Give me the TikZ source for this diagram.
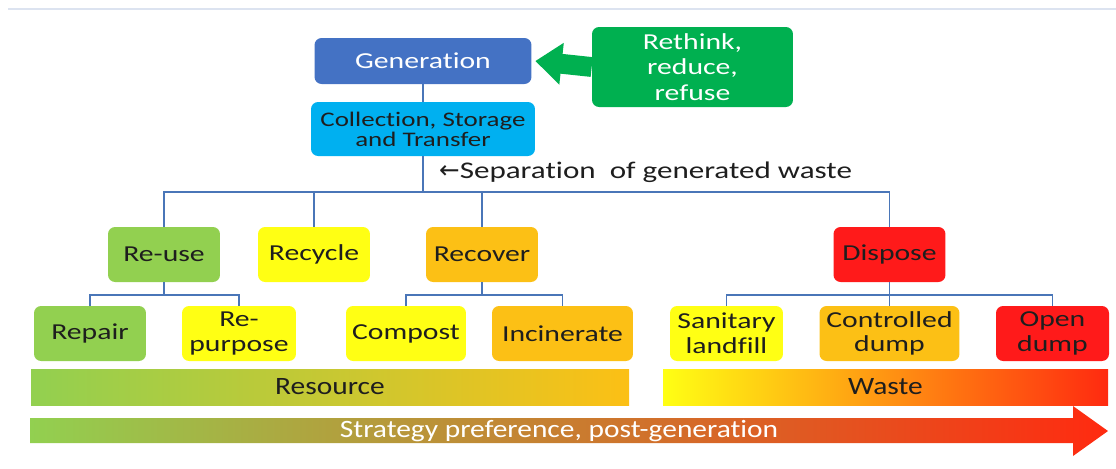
\documentclass[tikz,border=0pt]{standalone}
\usepackage{fontspec}
\setmainfont{Carlito}[Ligatures=NoCommon]
\newfontfamily\boxfont{Carlito}[FakeStretch=1.3, Ligatures=NoCommon]
\newfontfamily\barfont{Carlito}[FakeStretch=1.18, Ligatures=NoCommon]
\newfontfamily\symfont{DejaVu Sans}
\usetikzlibrary{arrows.meta}

\definecolor{ink}{HTML}{1E1E1E}
\definecolor{linkblue}{HTML}{4A76B8}
\definecolor{rule}{HTML}{DCE3F0}
\definecolor{genblue}{HTML}{4472C4}
\definecolor{rgreen}{HTML}{00B050}
\definecolor{skyblue}{HTML}{00B0F0}
\definecolor{lgreen}{HTML}{92D050}
\definecolor{yel}{HTML}{FFFF14}
\definecolor{orng}{HTML}{FCC015}
\definecolor{red}{HTML}{FF1A1A}
\definecolor{rust}{HTML}{E08C34}
\definecolor{hotred}{HTML}{FF2A10}

\begin{document}
\begin{tikzpicture}[x=0.02cm, y=-0.02cm,
    box/.style={rounded corners=4pt, inner sep=0pt, align=center, text=ink,
        font=\boxfont\fontsize{13}{14}\selectfont},
    lvl/.style={box, minimum width=2.24cm, minimum height=1.1cm},
    link/.style={draw=linkblue, line width=1pt},
    bartext/.style={font=\barfont\fontsize{14.2}{16}\selectfont}]
    \useasboundingbox (0,0) rectangle (1116,468);

    % thin rule along the top
    \draw[rule, line width=1.2pt] (8,9) -- (1116,9);

    % Generation and upstream measures
    \node[box, fill=genblue, text=white, minimum width=4.34cm, minimum height=0.92cm] (gen) at (423,61) {Generation};
    \node[box, fill=rgreen, text=white, minimum width=4.02cm, minimum height=1.6cm,
        font=\boxfont\fontsize{13}{14.4}\selectfont] (rethink) at (692.5,67) {Rethink,\\reduce,\\refuse};
    \node[box, fill=skyblue, minimum width=4.48cm, minimum height=1.08cm,
        font=\boxfont\fontsize{11.8}{11.4}\selectfont] (coll) at (423,129) {Collection, Storage\\and Transfer};
    \draw[rgreen, line width=11.3pt, -{Triangle[length=15pt, width=23pt]}] (rethink.west) -- ([xshift=2pt]gen.east);
    \draw[link] (gen) -- (coll);

    % Separation into streams
    \coordinate (split) at (423,192);
    \node[anchor=west, text=ink, font=\boxfont\fontsize{13.6}{14}\selectfont] (sep) at (433,172) {{\symfont\fontsize{14}{14}\selectfont←}Separation\ \ of generated waste};
    \node[lvl, fill=lgreen] (reuse) at (164,254.5) {Re-use};
    \node[lvl, fill=yel] (recycle) at (314,254.5) {Recycle};
    \node[lvl, fill=orng] (recover) at (482,254.5) {Recover};
    \node[lvl, fill=red] (dispose) at (889.5,254.5) {Dispose};
    \draw[link] (coll) -- (split);
    \foreach \n in {reuse, recycle, recover, dispose}
        \draw[link] (split) -| (\n.north);

    % Second level options
    \node[lvl, fill=lgreen, minimum width=2.24cm] (repair) at (90,333.5) {Repair};
    \node[lvl, fill=yel, minimum width=2.28cm] (repurpose) at (239,333.5) {Re-\\purpose};
    \node[lvl, fill=yel, minimum width=2.4cm] (compost) at (406,333.5) {Compost};
    \node[lvl, fill=orng, minimum width=2.82cm] (incinerate) at (562.5,333.5) {Incinerate};
    \node[lvl, fill=yel, minimum width=2.26cm] (landfill) at (726.5,333.5) {Sanitary\\landfill};
    \node[lvl, fill=orng, minimum width=2.8cm] (controlled) at (889.5,333.5) {Controlled\\dump};
    \node[lvl, fill=red, minimum width=2.26cm] (open) at (1052.5,333.5) {Open\\dump};

    \draw[link] (reuse.south) -- ++(0,12.5) coordinate (b1);
    \draw[link] (b1) -| (repair.north);
    \draw[link] (b1) -| (repurpose.north);
    \draw[link] (recover.south) -- ++(0,12.5) coordinate (b2);
    \draw[link] (b2) -| (compost.north);
    \draw[link] (b2) -| (incinerate.north);
    \draw[link] (dispose.south) -- (controlled.north);
    \draw[link] (dispose.south) ++(0,12.5) coordinate (b3);
    \draw[link] (b3) -| (landfill.north);
    \draw[link] (b3) -| (open.north);

    % Resource / waste bands
    \shade[left color=lgreen, right color=orng] (31,369) rectangle (629,405);
    \node[bartext, text=ink] (resource) at (330,387) {Resource};
    \shade[left color=yel, middle color=orange!80!yel, right color=hotred] (663,369) rectangle (1108,405);
    \node[bartext, text=ink] (waste) at (885.5,387) {Waste};

    % Preference arrow
    \shade[left color=lgreen, middle color=rust, right color=hotred]
        (30,418) -- (1073,418) -- (1073,406) -- (1108,431) -- (1073,456) -- (1073,443) -- (30,443) -- cycle;
    \node[bartext, text=white] (pref) at (559,431) {Strategy preference, post-generation};
\end{tikzpicture}
\end{document}
